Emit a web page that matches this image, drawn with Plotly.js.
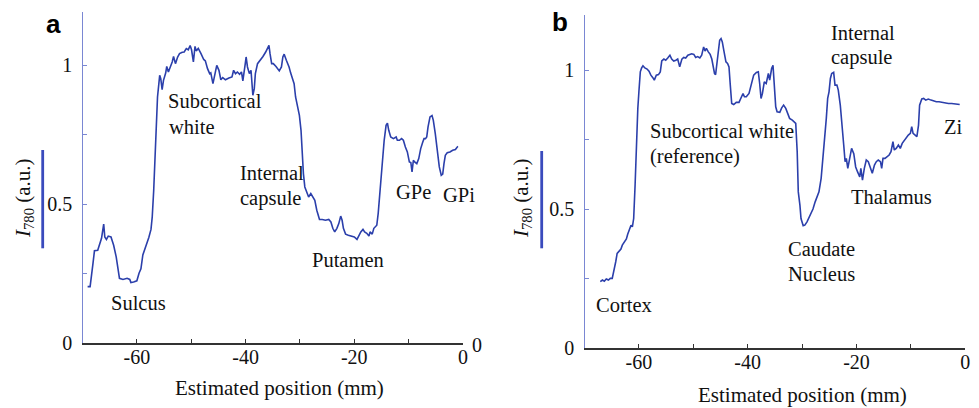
<!DOCTYPE html>
<html>
<head>
<meta charset="utf-8">
<script src="https://cdn.plot.ly/plotly-3.0.1.min.js"></script>
<style>html,body{margin:0;padding:0;background:#fff;}#chart{width:979px;height:408px;}</style>
</head>
<body>
<div id="chart"></div>
<script>
// ---- Data (panel a) ----
const aX = [-69.06,-68.6,-68.07,-67.8,-67.2,-66.85,-66.5,-66.1,-65.9,-65.6,-65.26,-64.76,-64.27,-63.8,-63.4,-63.2,-62.55,-61.8,-61.3,-61.1,-60.6,-60.0,-59.6,-59.25,-58.9,-58.5,-58.1,-57.8,-57.4,-57.17,-56.9,-56.67,-56.4,-56.2,-55.8,-55.6,-55.35,-55.1,-54.7,-54.5,-54.2,-53.86,-53.5,-53.25,-52.9,-52.5,-52.15,-51.65,-51.3,-50.9,-50.55,-50.2,-49.94,-49.6,-49.3,-49.08,-48.7,-48.2,-47.7,-47.4,-47.0,-46.6,-46.4,-46.0,-45.65,-45.3,-44.9,-44.55,-44.2,-43.7,-43.07,-42.5,-42.2,-41.85,-41.5,-41.1,-40.75,-40.5,-40.1,-39.9,-39.65,-39.3,-39.0,-38.66,-38.4,-38.2,-37.8,-37.3,-36.8,-36.3,-35.97,-35.7,-35.5,-35.2,-34.9,-34.4,-33.8,-33.4,-33.14,-32.9,-32.5,-32.0,-31.7,-31.3,-31.07,-30.8,-30.45,-30.1,-29.8,-29.6,-29.36,-29.1,-28.7,-28.4,-28.0,-27.6,-27.26,-26.9,-26.4,-25.9,-25.3,-24.7,-24.3,-23.95,-23.6,-23.2,-22.85,-22.5,-22.24,-22.0,-21.6,-21.1,-20.5,-20.0,-19.5,-19.2,-18.8,-18.4,-18.1,-17.7,-17.3,-17.1,-16.7,-16.4,-16.1,-15.86,-15.6,-15.26,-14.9,-14.5,-14.15,-13.9,-13.66,-13.3,-12.8,-12.3,-12.08,-11.7,-11.3,-10.97,-10.6,-10.24,-9.87,-9.6,-9.375,-9.13,-8.9,-8.5,-8.14,-7.78,-7.4,-7.17,-6.9,-6.67,-6.43,-6.07,-5.7,-5.46,-5.1,-4.7,-4.36,-4.0,-3.73,-3.5,-3.25,-2.9,-2.4,-1.9,-1.4,-1.05,-0.92];
const aY = [0.203,0.203,0.287,0.332,0.334,0.359,0.377,0.428,0.382,0.373,0.385,0.382,0.352,0.310,0.263,0.233,0.229,0.233,0.229,0.218,0.220,0.224,0.251,0.267,0.317,0.339,0.363,0.380,0.409,0.454,0.550,0.682,0.802,0.886,0.964,0.952,0.912,0.946,0.972,0.996,0.976,0.991,1.012,1.032,1.006,1.030,1.042,1.047,1.048,1.060,1.056,1.071,1.056,1.012,1.068,1.052,1.061,1.042,1.021,1.016,0.988,0.970,0.973,0.934,0.970,1.000,0.982,0.948,0.956,0.948,0.954,0.958,0.982,0.970,0.976,0.968,0.976,0.944,1.000,1.030,0.994,0.970,0.982,0.892,0.916,0.970,1.006,1.018,1.032,1.048,1.060,1.072,1.042,1.006,1.006,0.996,0.980,0.994,1.030,1.040,1.018,0.994,0.972,0.948,0.934,0.886,0.850,0.820,0.766,0.670,0.610,0.562,0.538,0.526,0.538,0.526,0.514,0.478,0.445,0.445,0.442,0.445,0.436,0.413,0.400,0.413,0.430,0.457,0.442,0.413,0.392,0.388,0.385,0.382,0.373,0.385,0.400,0.409,0.400,0.395,0.385,0.400,0.392,0.413,0.420,0.424,0.467,0.550,0.634,0.730,0.784,0.792,0.766,0.742,0.736,0.742,0.730,0.730,0.736,0.730,0.706,0.688,0.652,0.650,0.616,0.658,0.652,0.646,0.664,0.700,0.724,0.736,0.736,0.742,0.778,0.814,0.819,0.802,0.754,0.694,0.634,0.604,0.608,0.646,0.676,0.685,0.688,0.694,0.697,0.706,0.708];

// ---- Data (panel b) ----
const bX = [-67.1,-66.7,-66.36,-66.0,-65.6,-65.26,-64.9,-64.6,-64.26,-64.0,-63.66,-63.3,-63.05,-62.7,-62.3,-62.06,-61.7,-61.45,-61.2,-60.96,-60.7,-60.5,-60.2,-60.0,-59.74,-59.5,-59.25,-58.9,-58.5,-58.14,-57.8,-57.4,-57.17,-56.8,-56.4,-56.07,-55.8,-55.4,-55.07,-54.7,-54.3,-53.97,-53.6,-53.2,-52.87,-52.5,-52.1,-51.76,-51.4,-51.0,-50.66,-50.3,-49.9,-49.56,-49.2,-48.8,-48.46,-48.1,-47.85,-47.6,-47.24,-46.9,-46.6,-46.38,-46.1,-45.9,-45.6,-45.4,-45.15,-44.9,-44.67,-44.4,-44.0,-43.7,-43.44,-43.2,-42.94,-42.57,-42.1,-41.6,-41.2,-40.86,-40.6,-40.26,-39.76,-39.4,-38.9,-38.4,-38.05,-37.8,-37.55,-37.3,-36.95,-36.6,-36.2,-35.96,-35.6,-35.35,-35.1,-34.85,-34.6,-34.1,-33.75,-33.4,-33.0,-32.65,-32.3,-31.8,-31.4,-31.17,-30.9,-30.7,-30.4,-30.2,-29.8,-29.5,-29.1,-28.7,-28.36,-28.0,-27.6,-27.26,-26.9,-26.5,-26.16,-25.8,-25.55,-25.3,-25.05,-24.8,-24.56,-24.2,-23.95,-23.6,-23.35,-22.98,-22.6,-22.35,-22.1,-21.87,-21.6,-21.25,-20.9,-20.5,-20.15,-19.8,-19.4,-19.2,-18.9,-18.56,-18.2,-17.83,-17.46,-17.1,-16.7,-16.36,-16.0,-15.6,-15.37,-15.13,-14.76,-14.4,-14.0,-13.66,-13.3,-13.05,-12.7,-12.3,-11.95,-11.6,-11.2,-10.85,-10.48,-10.1,-9.85,-9.6,-9.25,-8.9,-8.6,-8.4,-8.0,-7.65,-7.28,-6.8,-6.3,-5.8,-5.33,-4.83,-4.34,-3.73,-3.1,-2.5,-1.9,-1.4,-1.03];
const bY = [0.238,0.244,0.240,0.248,0.244,0.250,0.250,0.274,0.310,0.340,0.346,0.356,0.370,0.382,0.392,0.409,0.428,0.442,0.436,0.466,0.586,0.731,0.863,0.923,0.995,1.009,1.017,1.009,1.005,0.997,0.983,0.973,0.965,0.983,0.985,0.995,1.034,1.041,1.037,1.045,1.055,1.041,1.034,1.037,1.041,1.013,1.041,1.047,1.045,1.055,1.058,1.060,1.058,1.047,1.050,1.045,1.055,1.085,1.070,1.080,1.067,1.058,1.041,1.019,0.989,0.985,1.031,1.067,1.109,1.115,1.103,1.073,1.031,1.025,1.013,0.947,0.881,0.877,0.885,0.885,0.901,0.917,0.905,0.905,0.917,0.947,0.983,0.993,0.995,0.953,0.899,0.917,0.959,0.953,0.989,0.965,1.007,1.019,0.947,0.869,0.851,0.849,0.865,0.875,0.863,0.845,0.827,0.821,0.815,0.809,0.707,0.562,0.514,0.466,0.440,0.442,0.454,0.472,0.490,0.500,0.526,0.541,0.562,0.611,0.683,0.767,0.827,0.899,0.923,0.971,0.989,0.993,0.947,0.947,0.929,0.875,0.803,0.731,0.671,0.683,0.647,0.690,0.719,0.700,0.652,0.634,0.616,0.647,0.604,0.647,0.677,0.671,0.652,0.629,0.659,0.671,0.677,0.671,0.647,0.683,0.683,0.689,0.695,0.707,0.743,0.713,0.719,0.731,0.719,0.737,0.749,0.755,0.767,0.773,0.797,0.773,0.767,0.761,0.803,0.875,0.897,0.899,0.893,0.897,0.893,0.889,0.887,0.887,0.885,0.884,0.881,0.881,0.879,0.877,0.877];

// ---- Tick labels ----
const xTickVals = [-60,-40,-20,0];
const xTickText = ['-60','-40','-20','0'];
const yTickVals = [0,0.5,1];
const yTickText = ['0','0.5','1'];

const W = 979, H = 408;
const px = v => v / W;
const py = v => 1 - v / H;

const lineColor = '#2b3fab';
const yAxisColor = '#7a87d3';
const xAxisColor = '#333333';
const serifFam = 'Liberation Serif';
const sansFam = 'Liberation Sans';
const txt = '#111111';

function xAxis(domain, anchor) {
  return {
    domain: domain, anchor: anchor, range: [-70, 0],
    showgrid: false, zeroline: false, showline: true,
    linecolor: xAxisColor, linewidth: 1.6,
    ticks: 'inside', ticklen: 4, tickwidth: 1.2, tickcolor: xAxisColor,
    tickmode: 'array', tickvals: xTickVals, ticktext: xTickText,
    minor: {tickmode: 'linear', tick0: 0, dtick: 10, ticks: 'inside', ticklen: 4, tickwidth: 1.2, tickcolor: xAxisColor, showgrid: false},
    tickfont: {family: serifFam, size: 20, color: txt},
    ticklabelstandoff: -5
  };
}
function yAxis(domain, anchor, top) {
  return {
    domain: domain, anchor: anchor, range: [0, top],
    showgrid: false, zeroline: false, showline: true,
    linecolor: yAxisColor, linewidth: 1.4,
    ticks: 'inside', ticklen: 4, tickwidth: 1.2, tickcolor: yAxisColor,
    tickmode: 'array', tickvals: yTickVals, ticktext: yTickText,
    minor: {tickmode: 'linear', tick0: 0, dtick: 0.25, ticks: 'inside', ticklen: 4, tickwidth: 1.2, tickcolor: yAxisColor, showgrid: false},
    tickfont: {family: serifFam, size: 20, color: txt},
    ticklabelstandoff: 5
  };
}

const traces = [
  {x: aX, y: aY, xaxis: 'x', yaxis: 'y', type: 'scatter', mode: 'lines',
   line: {color: lineColor, width: 1.6}, hoverinfo: 'skip'},
  {x: bX, y: bY, xaxis: 'x2', yaxis: 'y2', type: 'scatter', mode: 'lines',
   line: {color: lineColor, width: 1.6}, hoverinfo: 'skip'}
];

function lab(text, x, y, opts) {
  return Object.assign({
    text: text, xref: 'paper', yref: 'paper', x: px(x), y: py(y),
    xanchor: 'left', yanchor: 'middle', showarrow: false,
    font: {family: serifFam, size: 20.5, color: txt}
  }, opts || {});
}

const annotations = [
  // panel letters
  lab('<b>a</b>', 53, 24, {xanchor: 'center', font: {family: sansFam, size: 26, color: '#000'}}),
  lab('<b>b</b>', 559.5, 22, {xanchor: 'center', font: {family: sansFam, size: 26, color: '#000'}}),
  // y titles
  lab('<i>I</i><sub>780</sub> (a.u.)', 24, 198, {xanchor: 'center', textangle: -90, font: {family: serifFam, size: 21, color: txt}}),
  lab('<i>I</i><sub>780</sub> (a.u.)', 522, 198, {xanchor: 'center', textangle: -90, font: {family: serifFam, size: 21, color: txt}}),
  // x titles
  lab('Estimated position (mm)', 279.7, 388, {xanchor: 'center', font: {family: serifFam, size: 21, color: txt}}),
  lab('Estimated position (mm)', 802.5, 395, {xanchor: 'center', font: {family: serifFam, size: 21, color: txt}}),
  // stray right-hand zero in panel a
  lab('0', 477, 345, {xanchor: 'center', font: {family: serifFam, size: 20, color: txt}}),
  // panel a labels
  lab('Subcortical', 165.7, 101),
  lab('white', 166.7, 127),
  lab('Internal', 238.3, 173),
  lab('capsule', 238.3, 198),
  lab('Putamen', 310, 260),
  lab('Sulcus', 109, 303),
  lab('GPe', 394.3, 192),
  lab('GPi', 441, 194.5),
  // panel b labels
  lab('Subcortical white', 647.7, 131),
  lab('(reference)', 647.7, 156),
  lab('Internal', 829.3, 33),
  lab('capsule', 829.3, 58),
  lab('Caudate', 786, 249),
  lab('Nucleus', 786, 273.7),
  lab('Thalamus', 849, 197),
  lab('Zi', 942.3, 126.7),
  lab('Cortex', 594, 304.7)
];

const shapes = [
  {type: 'line', xref: 'paper', yref: 'paper', x0: px(42.7), x1: px(42.7), y0: py(150), y1: py(248.3),
   line: {color: '#3a4bbd', width: 2.8}},
  {type: 'line', xref: 'paper', yref: 'paper', x0: px(541.7), x1: px(541.7), y0: py(151), y1: py(248.3),
   line: {color: '#3a4bbd', width: 2.8}}
];

const layout = {
  width: W, height: H,
  margin: {l: 0, r: 0, t: 0, b: 0},
  paper_bgcolor: '#fff', plot_bgcolor: 'rgba(0,0,0,0)',
  showlegend: false,
  font: {family: serifFam},
  xaxis: xAxis([px(82.5), px(463)], 'y'),
  yaxis: yAxis([1 - 343 / H, 1 - 12 / H], 'x', 1.192),
  xaxis2: xAxis([px(584.5), px(965.3)], 'y2'),
  yaxis2: yAxis([1 - 347.7 / H, 1 - 15 / H], 'x2', 1.2),
  annotations: annotations,
  shapes: shapes
};

Plotly.newPlot('chart', traces, layout, {displayModeBar: false});
</script>
</body>
</html>
